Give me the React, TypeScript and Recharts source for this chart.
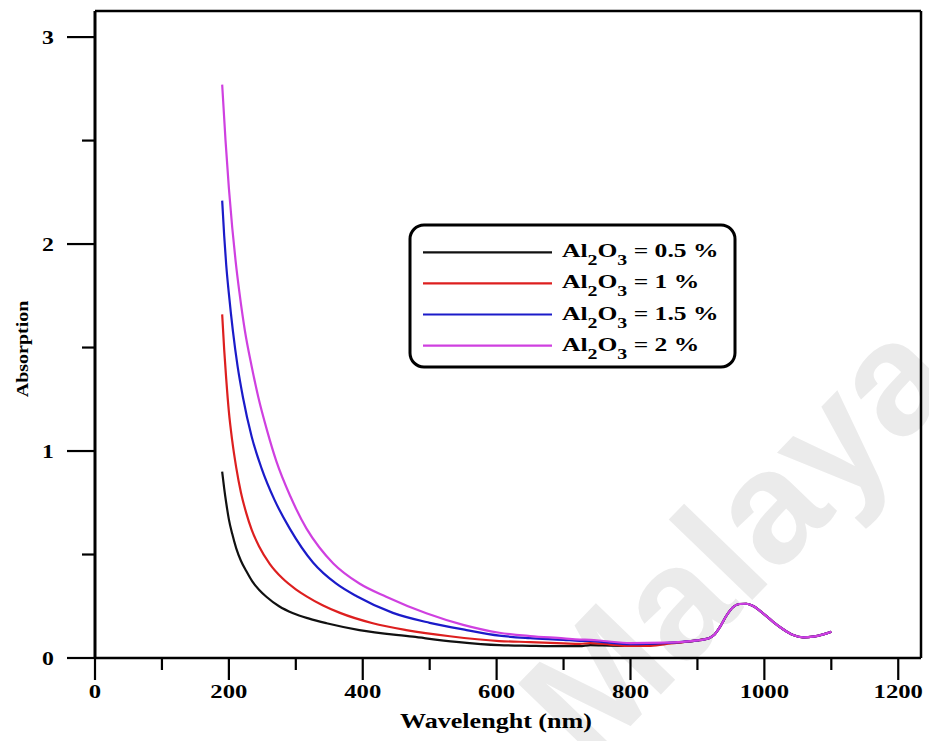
import React from 'react';
import { LineChart, Line, XAxis, YAxis, Legend, ReferenceLine } from 'recharts';

// Al2O3 content of each sample (%)
const concentrations = ['0.5', '1', '1.5', '2'];
const lineColors = ['#111111', '#dd1f1f', '#1b1bc9', '#cf40e0'];

// 0.5 % sample: wavelength (nm) and absorption up to the NIR band
const nmA = [190, 193, 196, 200, 205, 211, 218, 226, 235, 245, 256, 275, 296, 320, 346, 395, 475, 540, 604, 650, 700, 724, 740, 770, 800, 850];
const absA = [0.90, 0.82, 0.75, 0.67, 0.60, 0.53, 0.47, 0.42, 0.37, 0.33, 0.296, 0.25, 0.216, 0.19, 0.168, 0.135, 0.103, 0.078, 0.062, 0.059, 0.057, 0.057, 0.062, 0.06, 0.059, 0.07];

// 1 % sample
const nmB = [190, 193, 196, 200, 205, 211, 218, 226, 234, 245, 261, 280, 300, 316, 340, 366, 415, 465, 530, 604, 650, 700, 724, 740, 770, 800, 830, 860];
const absB = [1.66, 1.49, 1.35, 1.19, 1.05, 0.92, 0.80, 0.70, 0.62, 0.54, 0.455, 0.385, 0.332, 0.298, 0.255, 0.218, 0.168, 0.135, 0.105, 0.082, 0.077, 0.071, 0.068, 0.072, 0.065, 0.058, 0.059, 0.07];

// 1.5 % sample
const nmC = [190, 193, 196, 200, 206, 213, 221, 234, 249, 268, 291, 326, 360, 391, 445, 500, 555, 604, 650, 700, 724, 740, 760, 800, 850];
const absC = [2.21, 2.04, 1.90, 1.76, 1.58, 1.41, 1.26, 1.07, 0.915, 0.765, 0.625, 0.46, 0.36, 0.298, 0.218, 0.17, 0.135, 0.108, 0.096, 0.088, 0.083, 0.083, 0.077, 0.067, 0.072];

// 2 % sample
const nmD = [190, 195, 200, 205, 210, 216, 224, 234, 244, 257, 271, 292, 316, 335, 356, 395, 435, 495, 550, 604, 650, 700, 724, 740, 760, 800, 850];
const absD = [2.77, 2.50, 2.27, 2.08, 1.92, 1.76, 1.58, 1.41, 1.26, 1.10, 0.95, 0.78, 0.625, 0.535, 0.457, 0.36, 0.296, 0.216, 0.16, 0.122, 0.106, 0.095, 0.089, 0.088, 0.082, 0.072, 0.074];

// NIR band shared by all samples (curves coincide here)
const tailNm = [900, 910, 918, 926, 934, 943, 953, 963, 973, 983, 998, 1013, 1028, 1043, 1058, 1073, 1088, 1100];
const tailAbs = [0.085, 0.09, 0.097, 0.115, 0.152, 0.203, 0.245, 0.261, 0.262, 0.251, 0.216, 0.175, 0.139, 0.111, 0.100, 0.103, 0.114, 0.127];

const xTicks = [0, 100, 200, 300, 400, 500, 600, 700, 800, 900, 1000, 1100, 1200];
const yTicks = [0, 0.5, 1, 1.5, 2, 2.5, 3];
const xDomain: [number, number] = [0, 1234];
const yDomain: [number, number] = [0, 3.126];

const SERIF = "'Liberation Serif', 'Times New Roman', Times, serif";

const toPoints = (nm: number[], abs: number[]) => {
  const allNm = nm.concat(tailNm);
  const allAbs = abs.concat(tailAbs);
  return allNm.map((w, i) => ({ nm: w, abs: allAbs[i] }));
};

const seriesData = [
  toPoints(nmA, absA),
  toPoints(nmB, absB),
  toPoints(nmC, absC),
  toPoints(nmD, absD),
];

const XTick = (props: any) => {
  const { x, y, payload } = props;
  const v = payload.value as number;
  const major = v % 200 === 0;
  return (
    <g>
      <line x1={x} x2={x} y1={y} y2={y + (major ? 22 : 12)} stroke="#000" strokeWidth={2.2} />
      {major && (
        <g transform={`translate(${x},${y + 40}) scale(1.3,1)`}>
          <text textAnchor="middle" fontFamily={SERIF} fontWeight="bold" fontSize={19} fill="#000">
            {v}
          </text>
        </g>
      )}
    </g>
  );
};

const YTick = (props: any) => {
  const { x, y, payload } = props;
  const v = payload.value as number;
  const major = Number.isInteger(v);
  return (
    <g>
      <line x1={x - (major ? 28 : 13)} x2={x} y1={y} y2={y} stroke="#000" strokeWidth={2.2} />
      {major && (
        <g transform={`translate(${x - 47},${y + 6.5}) scale(1.25,1)`}>
          <text textAnchor="middle" fontFamily={SERIF} fontWeight="bold" fontSize={19} fill="#000">
            {v}
          </text>
        </g>
      )}
    </g>
  );
};

const XLabel = () => (
  <g transform="translate(496,728) scale(1.185,1)">
    <text textAnchor="middle" fontFamily={SERIF} fontWeight="bold" fontSize={22} fill="#000">
      Wavelenght (nm)
    </text>
  </g>
);

const YLabel = () => (
  <g transform="translate(28,349) rotate(-90) scale(1,0.85)">
    <text textAnchor="middle" fontFamily={SERIF} fontWeight="bold" fontSize={20} fill="#000">
      Absorption
    </text>
  </g>
);

const LegendBox = (props: any) => {
  const items = props.payload || [];
  return (
    <svg width={340} height={152} style={{ display: 'block' }}>
      <rect x={8} y={5} width={325} height={142} rx={14} ry={14} fill="#fff" stroke="#000" strokeWidth={3} />
      {items.map((item: any, i: number) => {
        const cy = 32.3 + i * 31.1;
        return (
          <g key={i}>
            <line x1={21} x2={150} y1={cy} y2={cy} stroke={item.color} strokeWidth={2.2} />
            <g transform={`translate(160,${cy + 5}) scale(1.42,1)`}>
              <text fontFamily={SERIF} fontWeight="bold" fontSize={18} fill="#000" style={{ whiteSpace: 'pre' }}>
                Al
                <tspan fontSize={14} dy={8}>2</tspan>
                <tspan fontSize={18} dy={-8}>O</tspan>
                <tspan fontSize={14} dy={8}>3</tspan>
                <tspan fontSize={18} dy={-8}>{` = ${item.value} %`}</tspan>
              </text>
            </g>
          </g>
        );
      })}
    </svg>
  );
};

export default function App() {
  return (
    <div style={{ position: 'absolute', left: 0, top: 0, width: 929, height: 741, background: '#fff', overflow: 'hidden' }}>
      <svg width={929} height={741} style={{ position: 'absolute', left: 0, top: 0 }}>
        <text
          transform="translate(590,768) rotate(-46)"
          fontFamily="'Liberation Sans', Arial, sans-serif"
          fontWeight="bold"
          fontSize={160}
          fill="#ebebeb"
        >
          Malaya
        </text>
      </svg>
      <div style={{ position: 'absolute', left: 0, top: 0 }}>
        <LineChart width={929} height={741} margin={{ top: 11, right: 8, bottom: 0, left: 0 }}>
          <XAxis
            dataKey="nm"
            type="number"
            domain={xDomain}
            ticks={xTicks}
            interval={0}
            height={83}
            tickSize={0}
            tickMargin={0}
            tickLine={false}
            tick={<XTick />}
            axisLine={{ stroke: '#000', strokeWidth: 2.5 }}
            allowDataOverflow
            label={<XLabel />}
          />
          <YAxis
            type="number"
            domain={yDomain}
            ticks={yTicks}
            interval={0}
            width={95}
            tickSize={0}
            tickMargin={0}
            tickLine={false}
            tick={<YTick />}
            axisLine={{ stroke: '#000', strokeWidth: 3 }}
            allowDataOverflow
            label={<YLabel />}
          />
          <ReferenceLine y={yDomain[1]} stroke="#000" strokeWidth={2.5} ifOverflow="visible" />
          <ReferenceLine x={xDomain[1]} stroke="#000" strokeWidth={2.5} ifOverflow="visible" />
          <Legend
            layout="horizontal"
            verticalAlign="middle"
            align="center"
            content={<LegendBox />}
            wrapperStyle={{ position: 'absolute', left: 402, top: 220, width: 340, height: 152 }}
          />
          {seriesData.map((data, i) => (
            <Line
              key={concentrations[i]}
              data={data}
              dataKey="abs"
              name={concentrations[i]}
              type="monotone"
              stroke={lineColors[i]}
              strokeWidth={2.2}
              dot={false}
              activeDot={false}
              isAnimationActive={false}
            />
          ))}
        </LineChart>
      </div>
    </div>
  );
}
